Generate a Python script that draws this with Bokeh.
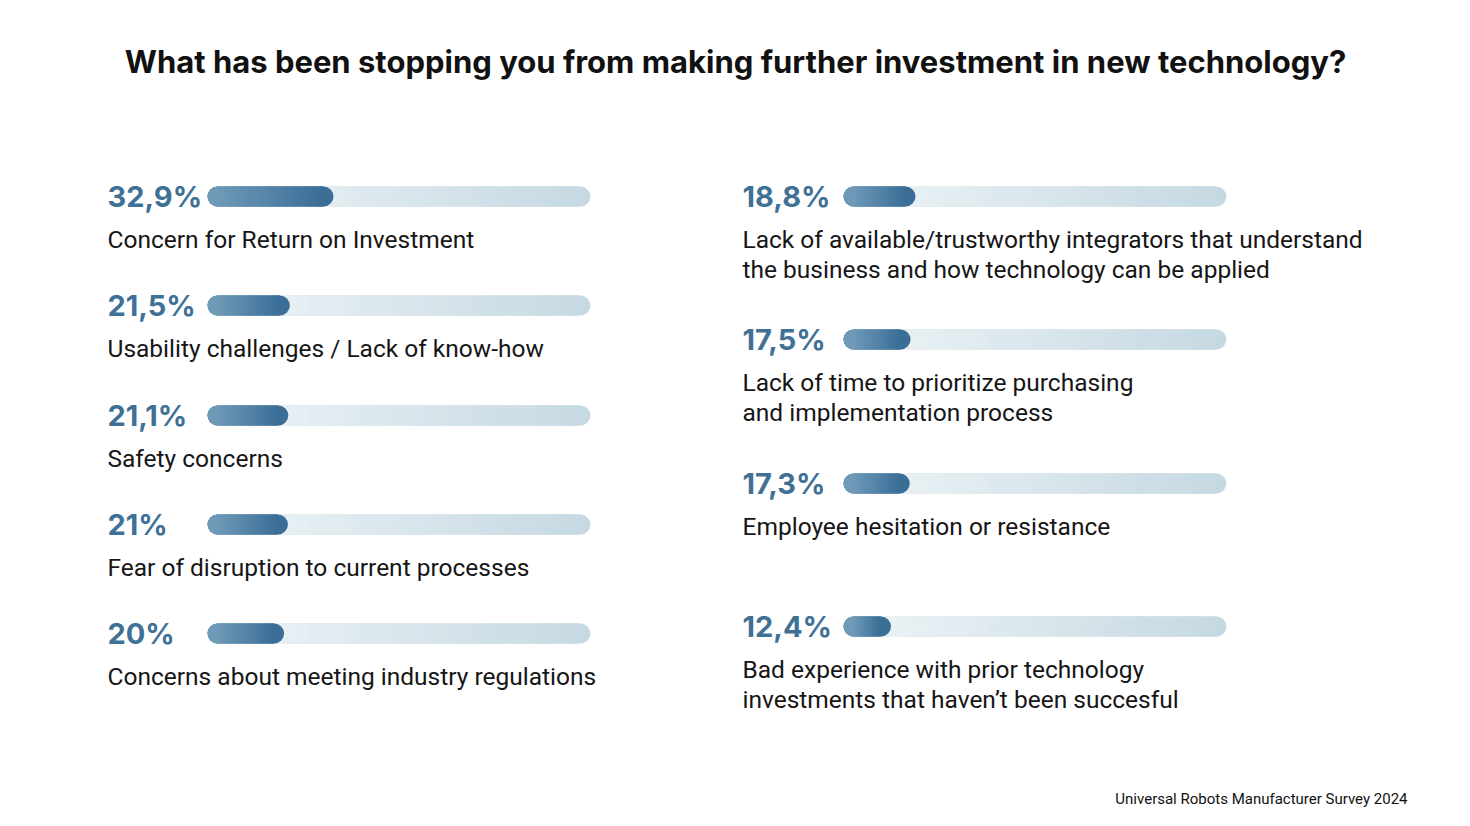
from bokeh.plotting import figure
from bokeh.models import Range1d
from bokeh.core.properties import value
from bokeh.embed import file_html
from bokeh.resources import INLINE

# ---------------- data ----------------
title_text = "What has been stopping you from making further investment in new technology?"
source_text = "Universal Robots Manufacturer Survey 2024"

left_values = [32.9, 21.5, 21.1, 21.0, 20.0]
left_pct = ["32,9%", "21,5%", "21,1%", "21%", "20%"]
left_labels = [
    "Concern for Return on Investment",
    "Usability challenges / Lack of know-how",
    "Safety concerns",
    "Fear of disruption to current processes",
    "Concerns about meeting industry regulations",
]

right_values = [18.8, 17.5, 17.3, 12.4]
right_pct = ["18,8%", "17,5%", "17,3%", "12,4%"]
right_labels = [
    "Lack of available/trustworthy integrators that understand\nthe business and how technology can be applied",
    "Lack of time to prioritize purchasing\nand implementation process",
    "Employee hesitation or resistance",
    "Bad experience with prior technology\ninvestments that haven\u2019t been succesful",
]

# ---------------- layout ----------------
W, H = 1470, 826
PX_PER_UNIT = 3.83          # a 100 % track is 383 px long
LEFT_TRACK_PX = 207
RIGHT_TRACK_PX = 843


def ux(px):
    return (px - LEFT_TRACK_PX) / PX_PER_UNIT


RIGHT_OFF = ux(RIGHT_TRACK_PX)
left_y = [196, 305, 415, 524, 633]
right_y = [196, 339, 483, 626]
BAR_H = 20
RADIUS = 10
LABEL_DY = 28

TRACK_L, TRACK_R = "#eef4f7", "#c6d9e2"
FILL_L, FILL_R = "#6e99b7", "#3a6e97"
PCT_COLOR = "#3f7196"
TEXT_COLOR = "#161616"

p = figure(width=W, height=H, x_range=Range1d(ux(0), ux(W)), y_range=Range1d(H, 0),
           output_backend="svg", toolbar_location=None, min_border=0,
           background_fill_color="white", border_fill_color="white")
p.axis.visible = False
p.grid.visible = False
p.outline_line_color = None


def hexrgb(h):
    h = h.lstrip("#")
    return tuple(int(h[i:i + 2], 16) for i in (0, 2, 4))


def lerp(c1, c2, t):
    a, b = hexrgb(c1), hexrgb(c2)
    return "#%02x%02x%02x" % tuple(round(a[i] + (b[i] - a[i]) * t) for i in range(3))


def gradient_bar(x0, x1, y, c_left, c_right, n=32):
    r = RADIUS / PX_PER_UNIT
    p.hbar(y=[y], left=[x0], right=[x1], height=BAR_H, fill_color=c_right,
           line_color=None, border_radius=RADIUS)
    p.hbar(y=[y], left=[x0], right=[min(x0 + 2 * r, x1)], height=BAR_H, fill_color=c_left,
           line_color=None, border_radius=RADIUS)
    a, b = x0 + r, x1 - r
    if b > a:
        step = (b - a) / n
        lefts = [a + i * step for i in range(n)]
        rights = [min(a + (i + 1.6) * step, b) for i in range(n)]
        cols = [lerp(c_left, c_right, (i + 0.5) / n) for i in range(n)]
        p.hbar(y=[y] * n, left=lefts, right=rights, height=BAR_H, fill_color=cols,
               line_color=None)


for vals, ys, off in ((left_values, left_y, 0.0), (right_values, right_y, RIGHT_OFF)):
    for v, y in zip(vals, ys):
        gradient_bar(off, off + 100, y, TRACK_L, TRACK_R)
        gradient_bar(off, off + v, y, FILL_L, FILL_R)

# percent labels
p.text(x=[ux(107)] * len(left_pct), y=left_y, text=left_pct,
       text_font=value("Inter"), text_font_style="bold", text_font_size="29px",
       text_color=PCT_COLOR, text_align="left", text_baseline="middle")
p.text(x=[ux(742)] * len(right_pct), y=right_y, text=right_pct,
       text_font=value("Inter"), text_font_style="bold", text_font_size="29px",
       text_color=PCT_COLOR, text_align="left", text_baseline="middle")

# category labels
p.text(x=[ux(107)] * len(left_labels), y=[y + LABEL_DY for y in left_y], text=left_labels,
       text_font=value("Roboto"), text_font_size="24.5px", text_color=TEXT_COLOR,
       text_align="left", text_baseline="top", text_line_height=1.05)
p.text(x=[ux(742)] * len(right_labels), y=[y + LABEL_DY for y in right_y], text=right_labels,
       text_font=value("Roboto"), text_font_size="24.5px", text_color=TEXT_COLOR,
       text_align="left", text_baseline="top", text_line_height=1.05)

# title & source
p.text(x=[ux(735)], y=[61], text=[title_text], text_font=value("Inter"),
       text_font_style="bold", text_font_size="31px", text_color="#111111",
       text_align="center", text_baseline="middle")
p.text(x=[ux(1407)], y=[798], text=[source_text], text_font=value("Roboto"),
       text_font_size="15px", text_color="#111111", text_align="right",
       text_baseline="middle")

open("out.html", "w").write(file_html(p, INLINE))
